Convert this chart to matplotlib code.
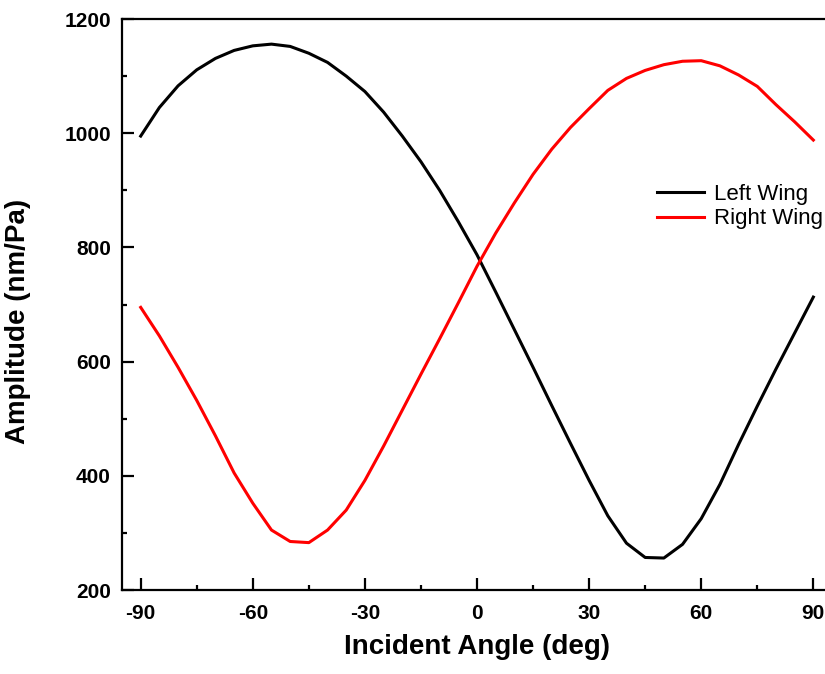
import matplotlib.pyplot as plt
from matplotlib.ticker import MultipleLocator

plt.rcParams['font.family'] = ['Liberation Sans', 'DejaVu Sans']
plt.rcParams['axes.unicode_minus'] = False
plt.rcParams['xtick.direction'] = 'in'
plt.rcParams['ytick.direction'] = 'in'

# Data (every 5 deg)
angles = list(range(-90, 95, 5))
left_wing = [995, 1045, 1083, 1111, 1131, 1145, 1153, 1156, 1152, 1140,
             1124, 1100, 1073, 1037, 995, 950, 900, 845, 787, 722,
             656, 590, 523, 457, 392, 330, 282, 257, 256, 280,
             325, 385, 455, 522, 587, 650, 713]
right_wing = [695, 645, 590, 532, 470, 405, 352, 305, 285, 283,
              305, 340, 392, 452, 515, 578, 640, 703, 767, 825,
              878, 928, 972, 1010, 1043, 1075, 1096, 1110, 1120, 1126,
              1127, 1118, 1102, 1082, 1050, 1020, 988]

x_ticks = [-90, -60, -30, 0, 30, 60, 90]
y_ticks = [200, 400, 600, 800, 1000, 1200]

fig = plt.figure(figsize=(8.25, 6.74), dpi=100)
ax = fig.add_axes([0.1479, 0.1246, 0.8606, 0.8472])

ax.plot(angles, left_wing, color='black', lw=2.2, label='Left Wing')
ax.plot(angles, right_wing, color='#ff0000', lw=2.2, label='Right Wing')

ax.set_xlim(-95, 95)
ax.set_ylim(200, 1200)
ax.set_xticks(x_ticks)
ax.set_yticks(y_ticks)
ax.xaxis.set_minor_locator(MultipleLocator(15))
ax.yaxis.set_minor_locator(MultipleLocator(100))

for s in ax.spines.values():
    s.set_linewidth(1.6)

ax.tick_params(which='both', direction='in', width=1.6)
ax.tick_params(which='major', length=8.5, labelsize=15)
ax.tick_params(which='minor', length=3.8)
ax.tick_params(axis='x', pad=10)
ax.tick_params(axis='y', pad=8)
for lbl in ax.get_xticklabels() + ax.get_yticklabels():
    lbl.set_fontweight('bold')

ax.set_xlabel('Incident Angle (deg)', fontsize=20, fontweight='bold', labelpad=8)
ax.set_ylabel('Amplitude (nm/Pa)', fontsize=20, fontweight='bold')
ax.yaxis.set_label_coords(-0.128, 0.47)

ax.legend(loc='upper left', bbox_to_anchor=(657 / 825, 1 - 184 / 674),
          bbox_transform=fig.transFigure, frameon=False, fontsize=16,
          borderpad=0, borderaxespad=0, handlelength=2.1,
          handletextpad=0.45, labelspacing=0.15)

fig.savefig('out.png', dpi=100)
